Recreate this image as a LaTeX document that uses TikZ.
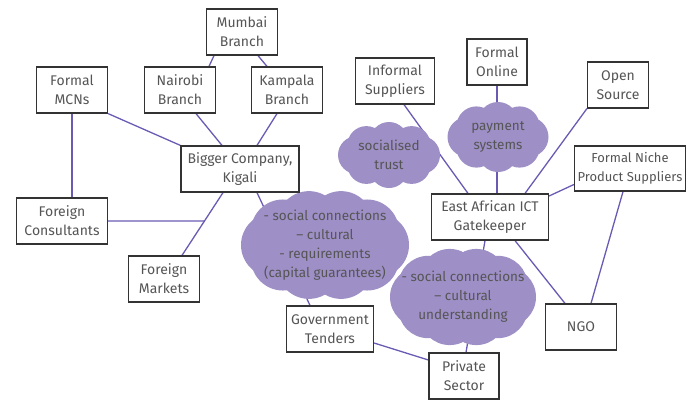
\documentclass[tikz,border=0pt]{standalone}
\usepackage{fontspec}
\setmainfont{Fira Sans}
\usetikzlibrary{intersections,backgrounds}
\definecolor{cloudfill}{HTML}{9E8FC6}
\definecolor{linkcol}{HTML}{6A5AB4}
\definecolor{txtcol}{HTML}{555555}
\definecolor{boxcol}{HTML}{333333}
\pgfdeclarelayer{clouds}
\pgfsetlayers{background,clouds,main}
\newcommand\puffcloud[5]{% node name, half width, half height, puff radius, puff count
  \begin{pgfonlayer}{clouds}
    \fill[cloudfill,shift={(#1.center)}] (0,0) ellipse [x radius={(#2-#4)*1pt}, y radius={(#3-#4)*1pt}];
    \foreach \k in {1,...,#5}{
      \pgfmathsetmacro\ang{360*\k/#5}
      \fill[cloudfill,shift={(#1.center)}] ({(#2-#4)*cos(\ang)},{(#3-#4)*sin(\ang)}) circle [radius=#4pt];
    }
  \end{pgfonlayer}}
\begin{document}
\begin{tikzpicture}[x=1pt,y=-1pt,
  box/.style={draw=boxcol,line width=1.2pt,fill=white,text=txtcol,align=center,
    font=\fontsize{14}{19}\selectfont,minimum width=71pt,minimum height=46pt,inner sep=1pt},
  cloudtext/.style={text=txtcol,align=center,font=\fontsize{13.5}{19}\selectfont,inner sep=0pt},
  link/.style={draw=linkcol,line width=1.3pt}]
\useasboundingbox (0,0) rectangle (687,405);
\clip (0,0) rectangle (687,405);
% boxes
\node[box] (mum) at (242,32) {Mumbai\\Branch};
\node[box] (mcn) at (72,90) {Formal\\MCNs};
\node[box] (nai) at (180,90) {Nairobi\\Branch};
\node[box] (kam) at (287,90) {Kampala\\Branch};
\node[box,minimum width=118pt] (big) at (240,169) {Bigger Company,\\Kigali};
\node[box,minimum width=91pt] (cons) at (62,221) {Foreign\\Consultants};
\node[box] (mkt) at (164,279) {Foreign\\Markets};
\node[box,minimum width=87pt] (gov) at (330,329) {Government\\Tenders};
\node[box,minimum width=70pt] (pri) at (464,376) {Private\\Sector};
\node[box] (ngo) at (581,327) {NGO};
\node[box,minimum width=79pt] (inf) at (395,81) {Informal\\Suppliers};
\node[box,minimum width=60pt] (fo) at (497,62) {Formal\\Online};
\node[box,minimum width=61pt] (os) at (618,85) {Open\\Source};
\node[box,minimum width=117pt] (gk) at (490,217) {East African ICT\\Gatekeeper};
\node[box,minimum width=111pt,minimum height=45pt,font=\fontsize{13}{19}\selectfont] (niche) at (630,168.5)
  {Formal Niche\\Product Suppliers};
% clouds
\node[cloudtext] (c1) at (325,245) {- social connections\\ -- cultural\\ - requirements\\ (capital guarantees)};
\puffcloud{c1}{84}{55}{32}{10}
\node[cloudtext] (c2) at (389,155) {socialised\\trust};
\puffcloud{c2}{51}{33}{19}{8}
\node[cloudtext] (c3) at (498,137) {payment\\systems};
\puffcloud{c3}{50.5}{35}{20}{8}
\node[cloudtext] (c4) at (463,297) {- social connections\\ -- cultural\\ understanding};
\puffcloud{c4}{73}{49}{30}{10}
% connectors
\begin{pgfonlayer}{background}
\draw[link] ([xshift=-28pt]mum.south) -- ([xshift=29pt]nai.north);
\draw[link] ([xshift=16pt]mum.south) -- ([xshift=-20pt]kam.north);
\draw[link] ([xshift=16pt]nai.south) -- ([xshift=-18pt]big.north);
\draw[link] ([xshift=-10pt]kam.south) -- ([xshift=17pt]big.north);
\draw[link] (mcn.south east) -- (big.north west);
\draw[link] (mcn.south) -- (mcn.south |- cons.north);
\draw[link,name path=bm] ([xshift=-17pt]big.south) -- ([xshift=18pt]mkt.north);
\path[name path=ch] (cons.east) -- ++(200,0);
\draw[link,name intersections={of=bm and ch,by=x1}] (cons.east) -- (x1);
\draw[link] ([xshift=17pt]big.south) -- ([xshift=-20pt]gov.north);
\draw[link] ([yshift=-14pt]gov.east) -- ([yshift=16pt]pri.west);
\draw[link] ([xshift=-5pt]gk.south) -- ([xshift=2pt]pri.north);
\draw[link] ([xshift=25pt]gk.south) -- ([xshift=-16pt]ngo.north);
\draw[link] ([xshift=-7pt]niche.south) -- ([xshift=10pt]ngo.north);
\draw[link] ([yshift=-16pt]niche.west) -- ([yshift=21pt]gk.east);
\draw[link] (os.south west) -- ([xshift=35pt]gk.north);
\draw[link] (fo.south) -- (fo.south |- gk.north);
\draw[link] ([xshift=9pt]inf.south) -- ([xshift=-22pt]gk.north);
\end{pgfonlayer}
\end{tikzpicture}
\end{document}
